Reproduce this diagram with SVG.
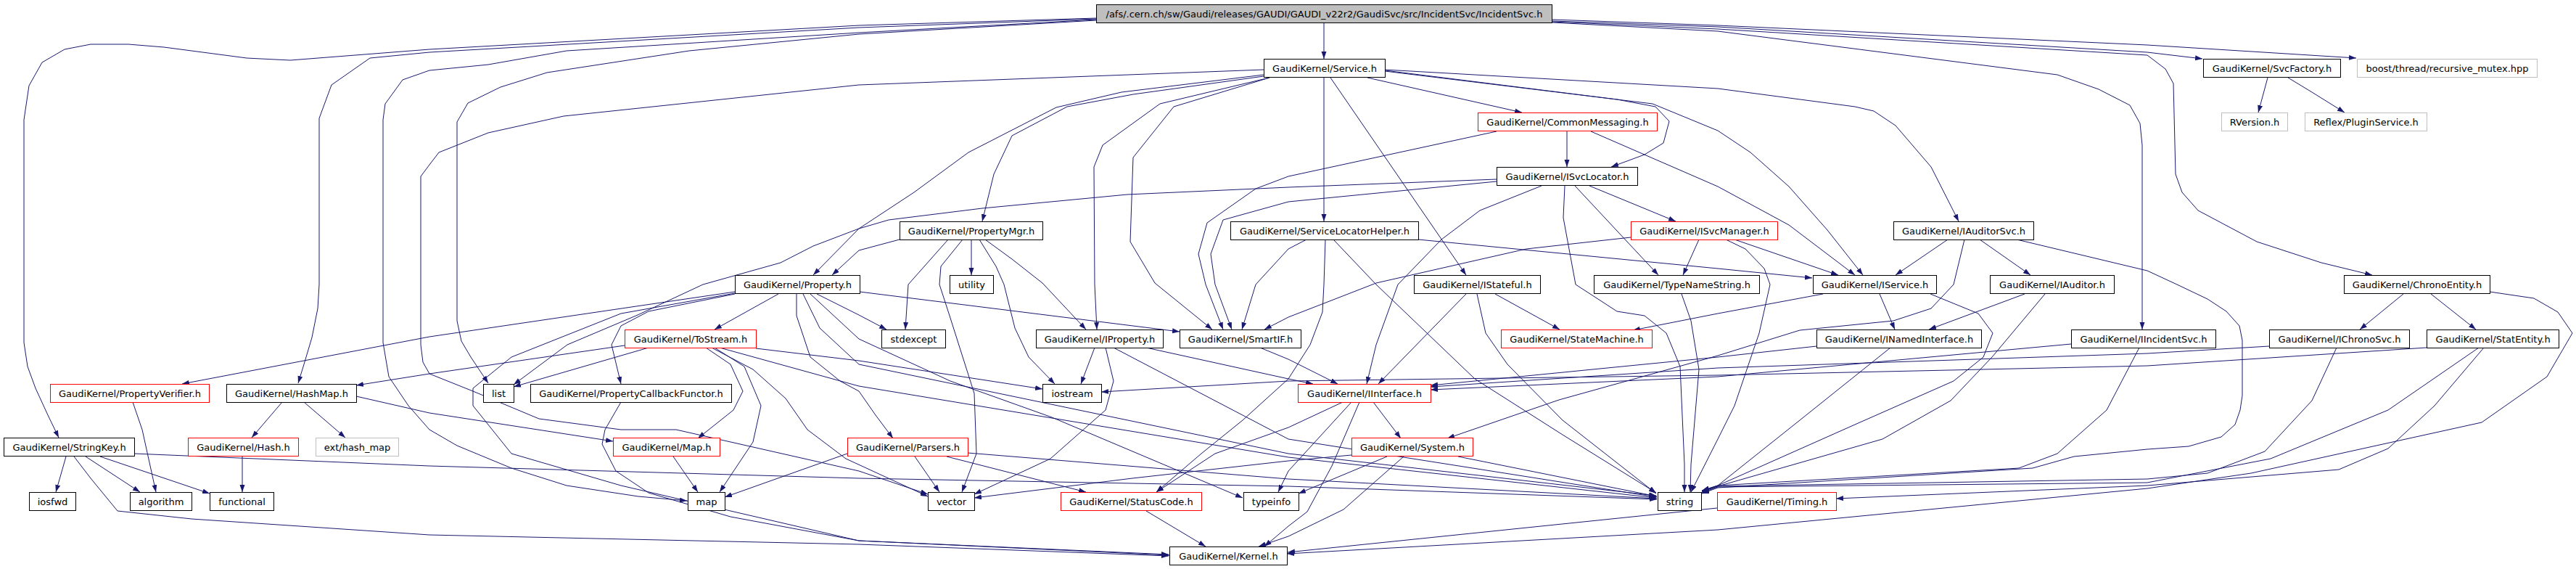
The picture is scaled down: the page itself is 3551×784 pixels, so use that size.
<svg xmlns="http://www.w3.org/2000/svg" width="3551" height="784" viewBox="0 0 3551 784">
<defs>
<marker id="a" markerUnits="userSpaceOnUse" markerWidth="10" markerHeight="8" refX="10" refY="3.5" orient="auto"><path d="M0,0 L10,3.5 L0,7 z" fill="#191970"/></marker>
<style>
.e path{fill:none;stroke:#191970;stroke-width:1;stroke-linejoin:round;marker-end:url(#a)}
.n rect{fill:#fff;stroke:#000;stroke-width:1}
.n.r rect{stroke:#ff0000}
.n.g rect{stroke:#bfbfbf}
.n.root rect{fill:#bfbfbf}
.n text{font-family:"DejaVu Sans","Liberation Sans",sans-serif;font-size:13px;text-anchor:middle;fill:#000}
</style>
</defs>
<rect width="3551" height="784" fill="#fff"/>
<g id="edges" class="e">
<path d="M1825,31.5 L1825,81"/>
<path d="M2140,29 L2368,37 L2960,72 L3036,81"/>
<path d="M2140,27 L2368,35 L2960,62 L3248,80"/>
<path d="M2140,30 L2368,40 L2960,76 L2985,95 L2996,115 L2999,240 L3008,265 L3030,290 L3111,333 L3200,362 L3270,379"/>
<path d="M2140,31 L2368,43 L2836,103 L2893,123 L2936,145 L2950,170 L2953,200 L2953,454"/>
<path d="M1511,25 L1184,35 L592,68 L400,83 L340,80 L226,65 L177,61 L125,61 L89,68 L58,86 L40,118 L33,165 L33,472 L38,505 L49,535 L66,572 L81,603"/>
<path d="M1511,26 L1184,38 L592,72 L510,80 L457,117 L440,163 L440,392 L438,425 L430,465 L419,502 L411,528"/>
<path d="M1511,27 L1184,45 L781,70 L673,89 L592,97 L555,110 L531,143 L528,165 L528,472 L536,519 L563,559 L592,592 L630,614 L705,645 L781,669 L880,684 L947,690"/>
<path d="M1511,28 L1184,47 L950,70 L754,100 L690,120 L645,142 L630,168 L630,442 L636,470 L649,492 L673,528"/>
<path d="M1885,107 L2098,155"/>
<path d="M1909,97 L2229,137 L2282,147 L2301,167 L2293,197 L2267,213 L2221,230"/>
<path d="M1825,107 L1825,305"/>
<path d="M1834,107 L2021,379"/>
<path d="M1909,96 L2368,122 L2557,147 L2583,153 L2613,173 L2662,230 L2696,297 L2700,305"/>
<path d="M1909,98 L2278,143 L2368,180 L2413,210 L2466,257 L2519,317 L2568,379"/>
<path d="M1742,105 L1562,130 L1471,147 L1395,187 L1370,240 L1354,305"/>
<path d="M1742,103 L1546,127 L1456,148 L1335,210 L1260,265 L1184,315 L1121,379"/>
<path d="M1750,107 L1599,143 L1520,200 L1508,230 L1509,392 L1512,454"/>
<path d="M1750,107 L1618,147 L1562,217 L1558,333 L1592,390 L1671,454"/>
<path d="M1742,96 L1184,117 L777,160 L673,183 L605,210 L592,227 L580,243 L580,475 L583,499 L592,515 L652,539 L743,577 L856,592 L932,592 L1184,649 L1279,681"/>
<path d="M2160,181 L2160,230"/>
<path d="M2063,181 L1776,243 L1731,260 L1664,307 L1652,350 L1662,392 L1686,454"/>
<path d="M2193,181 L2368,257 L2466,310 L2557,379"/>
<path d="M2191,256 L2310,305"/>
<path d="M2171,256 L2286,379"/>
<path d="M2157,256 L2155,300 L2172,392 L2229,429 L2267,435 L2297,459 L2316,505 L2322,640 L2322,678"/>
<path d="M2125,256 L2040,290 L1987,330 L1927,392 L1897,475 L1884,529"/>
<path d="M2063,247 L1776,258 L1554,268 L1354,287 L1225,303 L1184,315 L1121,339 L1076,362 L969,392 L879,434 L782,475 L708,530"/>
<path d="M2063,250 L1776,278 L1686,303 L1669,350 L1675,392 L1698,454"/>
<path d="M1240,330 L1184,345 L1147,379"/>
<path d="M1307,330 L1252,392 L1248,454"/>
<path d="M1327,330 L1297,367 L1295,392 L1309,435 L1343,542 L1346,625 L1326,678"/>
<path d="M1339,330 L1339,379"/>
<path d="M1350,330 L1373,367 L1384,392 L1399,452 L1418,492 L1454,529"/>
<path d="M1358,330 L1395,357 L1437,390 L1497,454"/>
<path d="M1801,330 L1776,343 L1731,392 L1712,454"/>
<path d="M1955,330 L2368,370 L2498,383"/>
<path d="M1838,330 L1897,392 L2033,522 L2154,599 L2283,679"/>
<path d="M1827,330 L1825,392 L1823,430 L1806,475 L1776,522 L1713,579 L1656,625 L1594,678"/>
<path d="M2342,330 L2320,379"/>
<path d="M2391,330 L2534,379"/>
<path d="M2248,327 L2104,343 L1897,390 L1776,437 L1743,454"/>
<path d="M2379,330 L2406,343 L2432,370 L2440,392 L2425,459 L2391,559 L2368,605 L2331,678"/>
<path d="M2685,330 L2613,379"/>
<path d="M2729,330 L2799,379"/>
<path d="M2708,330 L2693,392 L2662,425 L2610,442 L2481,455 L2368,490 L2149,551 L1995,604"/>
<path d="M2780,330 L2960,373 L3001,392 L3043,412 L3069,429 L3087,449 L3091,469 L3091,545 L3088,565 L3081,585 L3062,602 L3017,615 L2960,619 L2859,629 L2802,645 L2368,672 L2346,680"/>
<path d="M1073,405 L985,454"/>
<path d="M1013,405 L894,429 L856,449 L843,475 L856,529"/>
<path d="M1013,402 L592,464 L251,529"/>
<path d="M1013,404 L856,432 L705,492 L652,535 L652,559 L705,625 L856,669 L1184,745 L1612,765"/>
<path d="M1185,402 L1626,457"/>
<path d="M1126,405 L1184,434 L1222,454"/>
<path d="M1098,405 L1098,435 L1117,492 L1158,525 L1184,539 L1207,572 L1231,604"/>
<path d="M1117,405 L1184,467 L1310,525 L1450,575 L1713,686"/>
<path d="M1107,405 L1130,452 L1184,502 L1776,625 L2283,683"/>
<path d="M861,476 L592,515 L491,531"/>
<path d="M894,479 L708,533"/>
<path d="M1042,480 L1184,497 L1437,536"/>
<path d="M973,479 L1007,502 L1024,539 L1011,565 L962,604"/>
<path d="M985,479 L1026,505 L1049,559 L1038,609 L992,678"/>
<path d="M981,479 L1038,509 L1083,549 L1113,592 L1166,632 L1279,684"/>
<path d="M992,479 L1184,532 L1776,630 L2283,686"/>
<path d="M1509,479 L1490,529"/>
<path d="M1524,479 L1535,525 L1524,565 L1448,632 L1343,681"/>
<path d="M1580,479 L1776,522 L1810,529"/>
<path d="M1535,479 L1776,605 L2284,685"/>
<path d="M1737,479 L1776,495 L1844,529"/>
<path d="M2061,405 L2150,454"/>
<path d="M2021,405 L1900,529"/>
<path d="M2036,405 L2048,459 L2078,502 L2154,579 L2283,680"/>
<path d="M2318,405 L2331,442 L2342,509 L2331,640 L2330,678"/>
<path d="M2591,405 L2612,454"/>
<path d="M2513,405 L2368,432 L2251,455"/>
<path d="M2661,405 L2727,432 L2747,459 L2734,492 L2693,525 L2557,585 L2368,669 L2346,677"/>
<path d="M2791,405 L2659,454"/>
<path d="M2819,405 L2746,492 L2689,552 L2595,605 L2368,670 L2346,678"/>
<path d="M3313,405 L3253,454"/>
<path d="M3351,405 L3413,454"/>
<path d="M3432,402 L3493,411 L3526,430 L3546,459 L3511,519 L3421,582 L3103,652 L2960,673 L2368,730 L1774,763"/>
<path d="M3345,479 L2960,504 L2368,517 L1776,525 L1518,540"/>
<path d="M3417,479 L3292,565 L3130,632 L2960,665 L2368,671 L2346,679"/>
<path d="M3424,479 L3356,559 L3292,618 L3224,647 L2960,669 L2531,687"/>
<path d="M3128,477 L2960,487 L2368,507 L1972,533"/>
<path d="M3221,479 L3187,552 L3122,622 L3043,652 L2960,660 L2368,670 L2346,677"/>
<path d="M2855,474 L2368,519 L1972,537"/>
<path d="M2949,479 L2904,565 L2836,625 L2783,645 L2368,669 L2346,676"/>
<path d="M2504,477 L2368,492 L1972,531"/>
<path d="M2606,479 L2481,579 L2368,669 L2346,676"/>
<path d="M1893,554 L1931,604"/>
<path d="M1874,554 L1836,642 L1802,705 L1776,725 L1743,753"/>
<path d="M1851,554 L1776,589 L1675,625 L1594,678"/>
<path d="M1863,554 L1776,649 L1762,678"/>
<path d="M1912,629 L1790,680"/>
<path d="M2010,629 L2284,684"/>
<path d="M1935,629 L1852,702 L1776,739 L1735,753"/>
<path d="M1863,627 L1776,635 L1561,659 L1343,686"/>
<path d="M1580,704 L1662,753"/>
<path d="M1261,629 L1295,678"/>
<path d="M1305,629 L1497,678"/>
<path d="M1168,625 L999,685"/>
<path d="M1334,624 L1776,660 L2284,687"/>
<path d="M91,629 L77,678"/>
<path d="M118,629 L193,678"/>
<path d="M138,629 L289,680"/>
<path d="M185,625 L592,642 L1184,659 L1776,670 L2284,688"/>
<path d="M102,629 L125,659 L162,704 L264,715 L592,737 L1184,750 L1611,766"/>
<path d="M183,554 L196,592 L215,678"/>
<path d="M389,554 L347,603"/>
<path d="M419,554 L476,603"/>
<path d="M491,546 L592,569 L845,608"/>
<path d="M334,629 L334,678"/>
<path d="M856,554 L834,592 L830,612 L849,649 L894,679 L1007,712 L1184,745 L1611,764"/>
<path d="M928,629 L962,678"/>
<path d="M2367,700 L1775,761"/>
<path d="M3126,107 L3113,155"/>
<path d="M3154,107 L3187,127 L3232,155"/>
</g>
<g id="n-root" class="n root"><rect x="1511.5" y="6.5" width="628" height="25"/><text x="1825.5" y="23.5">/afs/.cern.ch/sw/Gaudi/releases/GAUDI/GAUDI_v22r2/GaudiSvc/src/IncidentSvc/IncidentSvc.h</text></g>
<g id="n-service" class="n"><rect x="1742.5" y="81.5" width="167" height="25"/><text x="1826" y="98.5">GaudiKernel/Service.h</text></g>
<g id="n-svcfactory" class="n"><rect x="3037.5" y="81.5" width="189" height="25"/><text x="3132" y="98.5">GaudiKernel/SvcFactory.h</text></g>
<g id="n-boost" class="n g"><rect x="3249.5" y="81.5" width="248" height="25"/><text x="3373.5" y="98.5">boost/thread/recursive_mutex.hpp</text></g>
<g id="n-commonmessaging" class="n r"><rect x="2037.5" y="155.5" width="247" height="25"/><text x="2161" y="172.5">GaudiKernel/CommonMessaging.h</text></g>
<g id="n-rversion" class="n g"><rect x="3062.5" y="155.5" width="91" height="25"/><text x="3108" y="172.5">RVersion.h</text></g>
<g id="n-pluginservice" class="n g"><rect x="3177.5" y="155.5" width="168" height="25"/><text x="3261.5" y="172.5">Reflex/PluginService.h</text></g>
<g id="n-isvclocator" class="n"><rect x="2063.5" y="230.5" width="194" height="25"/><text x="2160.5" y="247.5">GaudiKernel/ISvcLocator.h</text></g>
<g id="n-propertymgr" class="n"><rect x="1240.5" y="305.5" width="197" height="25"/><text x="1339" y="322.5">GaudiKernel/PropertyMgr.h</text></g>
<g id="n-servicelocatorhelper" class="n"><rect x="1696.5" y="305.5" width="259" height="25"/><text x="1826" y="322.5">GaudiKernel/ServiceLocatorHelper.h</text></g>
<g id="n-isvcmanager" class="n r"><rect x="2248.5" y="305.5" width="202" height="25"/><text x="2349.5" y="322.5">GaudiKernel/ISvcManager.h</text></g>
<g id="n-iauditorsvc" class="n"><rect x="2610.5" y="305.5" width="193" height="25"/><text x="2707" y="322.5">GaudiKernel/IAuditorSvc.h</text></g>
<g id="n-property" class="n"><rect x="1013.5" y="379.5" width="172" height="25"/><text x="1099.5" y="396.5">GaudiKernel/Property.h</text></g>
<g id="n-utility" class="n"><rect x="1309.5" y="379.5" width="60" height="25"/><text x="1339.5" y="396.5">utility</text></g>
<g id="n-istateful" class="n"><rect x="1949.5" y="379.5" width="174" height="25"/><text x="2036.5" y="396.5">GaudiKernel/IStateful.h</text></g>
<g id="n-typenamestring" class="n"><rect x="2197.5" y="379.5" width="228" height="25"/><text x="2311.5" y="396.5">GaudiKernel/TypeNameString.h</text></g>
<g id="n-iservice" class="n"><rect x="2499.5" y="379.5" width="170" height="25"/><text x="2584.5" y="396.5">GaudiKernel/IService.h</text></g>
<g id="n-iauditor" class="n"><rect x="2743.5" y="379.5" width="171" height="25"/><text x="2829" y="396.5">GaudiKernel/IAuditor.h</text></g>
<g id="n-chronoentity" class="n"><rect x="3231.5" y="379.5" width="201" height="25"/><text x="3332" y="396.5">GaudiKernel/ChronoEntity.h</text></g>
<g id="n-tostream" class="n r"><rect x="861.5" y="454.5" width="181" height="25"/><text x="952" y="471.5">GaudiKernel/ToStream.h</text></g>
<g id="n-stdexcept" class="n"><rect x="1215.5" y="454.5" width="88" height="25"/><text x="1259.5" y="471.5">stdexcept</text></g>
<g id="n-iproperty" class="n"><rect x="1428.5" y="454.5" width="175" height="25"/><text x="1516" y="471.5">GaudiKernel/IProperty.h</text></g>
<g id="n-smartif" class="n"><rect x="1626.5" y="454.5" width="167" height="25"/><text x="1710" y="471.5">GaudiKernel/SmartIF.h</text></g>
<g id="n-statemachine" class="n r"><rect x="2069.5" y="454.5" width="208" height="25"/><text x="2173.5" y="471.5">GaudiKernel/StateMachine.h</text></g>
<g id="n-inamedinterface" class="n"><rect x="2504.5" y="454.5" width="227" height="25"/><text x="2618" y="471.5">GaudiKernel/INamedInterface.h</text></g>
<g id="n-iincidentsvc" class="n"><rect x="2855.5" y="454.5" width="199" height="25"/><text x="2955" y="471.5">GaudiKernel/IIncidentSvc.h</text></g>
<g id="n-ichronosvc" class="n"><rect x="3128.5" y="454.5" width="193" height="25"/><text x="3225" y="471.5">GaudiKernel/IChronoSvc.h</text></g>
<g id="n-statentity" class="n"><rect x="3345.5" y="454.5" width="182" height="25"/><text x="3436.5" y="471.5">GaudiKernel/StatEntity.h</text></g>
<g id="n-propertyverifier" class="n r"><rect x="69.5" y="529.5" width="219" height="25"/><text x="179" y="546.5">GaudiKernel/PropertyVerifier.h</text></g>
<g id="n-hashmap" class="n"><rect x="312.5" y="529.5" width="179" height="25"/><text x="402" y="546.5">GaudiKernel/HashMap.h</text></g>
<g id="n-list" class="n"><rect x="666.5" y="529.5" width="42" height="25"/><text x="687.5" y="546.5">list</text></g>
<g id="n-propertycallbackfunctor" class="n"><rect x="731.5" y="529.5" width="277" height="25"/><text x="870" y="546.5">GaudiKernel/PropertyCallbackFunctor.h</text></g>
<g id="n-iostream" class="n"><rect x="1437.5" y="529.5" width="81" height="25"/><text x="1478" y="546.5">iostream</text></g>
<g id="n-iinterface" class="n r"><rect x="1789.5" y="529.5" width="183" height="25"/><text x="1881" y="546.5">GaudiKernel/IInterface.h</text></g>
<g id="n-stringkey" class="n"><rect x="5.5" y="603.5" width="180" height="25"/><text x="95.5" y="620.5">GaudiKernel/StringKey.h</text></g>
<g id="n-hash" class="n r"><rect x="259.5" y="603.5" width="152" height="25"/><text x="335.5" y="620.5">GaudiKernel/Hash.h</text></g>
<g id="n-exthashmap" class="n g"><rect x="435.5" y="603.5" width="114" height="25"/><text x="492.5" y="620.5">ext/hash_map</text></g>
<g id="n-maph" class="n r"><rect x="845.5" y="603.5" width="147" height="25"/><text x="919" y="620.5">GaudiKernel/Map.h</text></g>
<g id="n-parsers" class="n r"><rect x="1168.5" y="603.5" width="166" height="25"/><text x="1251.5" y="620.5">GaudiKernel/Parsers.h</text></g>
<g id="n-system" class="n r"><rect x="1863.5" y="603.5" width="167" height="25"/><text x="1947" y="620.5">GaudiKernel/System.h</text></g>
<g id="n-iosfwd" class="n"><rect x="40.5" y="678.5" width="64" height="25"/><text x="72.5" y="695.5">iosfwd</text></g>
<g id="n-algorithm" class="n"><rect x="179.5" y="678.5" width="85" height="25"/><text x="222" y="695.5">algorithm</text></g>
<g id="n-functional" class="n"><rect x="289.5" y="678.5" width="88" height="25"/><text x="333.5" y="695.5">functional</text></g>
<g id="n-map" class="n"><rect x="948.5" y="678.5" width="51" height="25"/><text x="974" y="695.5">map</text></g>
<g id="n-vector" class="n"><rect x="1279.5" y="678.5" width="64" height="25"/><text x="1311.5" y="695.5">vector</text></g>
<g id="n-statuscode" class="n r"><rect x="1462.5" y="678.5" width="194" height="25"/><text x="1559.5" y="695.5">GaudiKernel/StatusCode.h</text></g>
<g id="n-typeinfo" class="n"><rect x="1714.5" y="678.5" width="76" height="25"/><text x="1752.5" y="695.5">typeinfo</text></g>
<g id="n-string" class="n"><rect x="2285.5" y="678.5" width="60" height="25"/><text x="2315.5" y="695.5">string</text></g>
<g id="n-timing" class="n r"><rect x="2367.5" y="678.5" width="164" height="25"/><text x="2449.5" y="695.5">GaudiKernel/Timing.h</text></g>
<g id="n-kernel" class="n"><rect x="1612.5" y="753.5" width="162" height="25"/><text x="1693.5" y="770.5">GaudiKernel/Kernel.h</text></g>
</svg>
